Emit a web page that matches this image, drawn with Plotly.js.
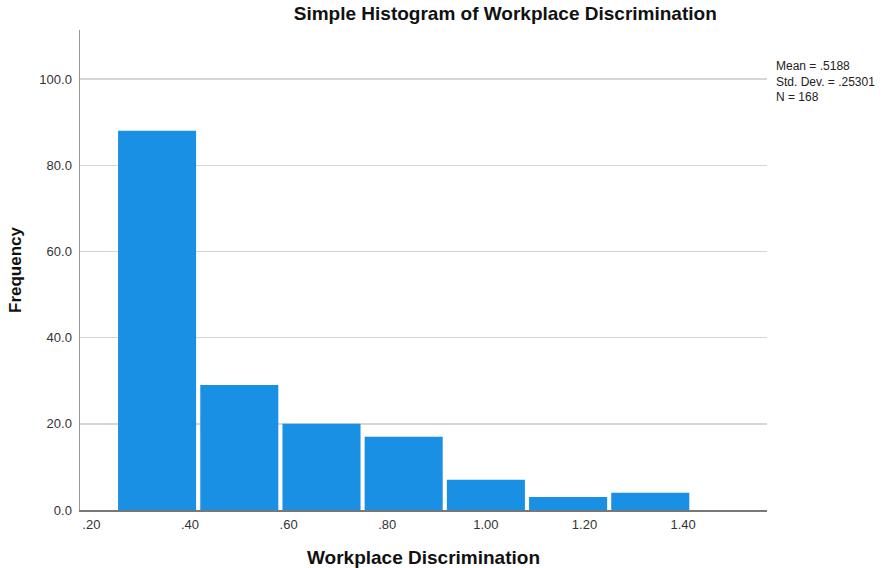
<!DOCTYPE html>
<html>
<head>
<meta charset="utf-8">
<script src="https://cdn.plot.ly/plotly-3.0.1.min.js"></script>
<style>html,body{margin:0;padding:0;background:#fff;}#chart{width:888px;height:568px;}</style>
</head>
<body>
<div id="chart"></div>
<script>
// Bin centres (bin width 1/6, starting at .25) and frequencies
var binCenters = [0.3333, 0.5, 0.6667, 0.8333, 1.0, 1.1667, 1.3333];
var frequencies = [88, 29, 20, 17, 7, 3, 4];
var xTickVals = [0.2, 0.4, 0.6, 0.8, 1.0, 1.2, 1.4];
var xTickText = [".20", ".40", ".60", ".80", "1.00", "1.20", "1.40"];
var yTickVals = [0, 20, 40, 60, 80, 100];
var statsText = ["Mean = .5188", "Std. Dev. = .25301", "N = 168"];

var font = "Arial, 'Liberation Sans', sans-serif";

var trace = {
  type: "bar",
  x: binCenters,
  y: frequencies,
  marker: {color: "#1990e3", line: {width: 0}},
  hoverinfo: "x+y"
};

var layout = {
  width: 888,
  height: 568,
  margin: {l: 80, r: 121, t: 30, b: 58},
  paper_bgcolor: "#ffffff",
  plot_bgcolor: "#ffffff",
  bargap: 0.05,
  showlegend: false,
  font: {family: font, size: 12, color: "#222"},
  xaxis: {
    range: [0.177, 1.570],
    tickvals: xTickVals,
    ticktext: xTickText,
    showgrid: false,
    zeroline: false,
    showline: true,
    linecolor: "#777",
    linewidth: 1.5,
    ticks: "",
    ticklabelstandoff: 2,
    tickfont: {family: font, size: 13, color: "#333"},
    title: {text: "Workplace Discrimination", font: {family: font, size: 19, color: "#111", weight: "bold"}, standoff: 20}
  },
  yaxis: {
    range: [0, 111.4],
    tickvals: yTickVals,
    tickformat: ".1f",
    showgrid: true,
    gridcolor: "#d6d6d6",
    gridwidth: 1.5,
    zeroline: false,
    showline: true,
    linecolor: "#999",
    linewidth: 1.5,
    ticks: "",
    ticklabelstandoff: 4,
    tickfont: {family: font, size: 13, color: "#333"},
    title: {text: "Frequency", font: {family: font, size: 17, color: "#111", weight: "bold"}, standoff: 13}
  },
  title: {
    text: "Simple Histogram of Workplace Discrimination",
    font: {family: font, size: 19, color: "#111", weight: "bold"},
    xref: "paper", x: 0.619, xanchor: "center",
    yref: "container", y: 0.988, yanchor: "top"
  },
  annotations: [{
    xref: "paper", yref: "paper",
    x: 1.010, y: 0.944,
    xanchor: "left", yanchor: "top",
    align: "left",
    showarrow: false,
    text: statsText.join("<br>"),
    font: {family: font, size: 12, color: "#222"}
  }]
};

Plotly.newPlot("chart", [trace], layout, {displayModeBar: false, staticPlot: true});
</script>
</body>
</html>
